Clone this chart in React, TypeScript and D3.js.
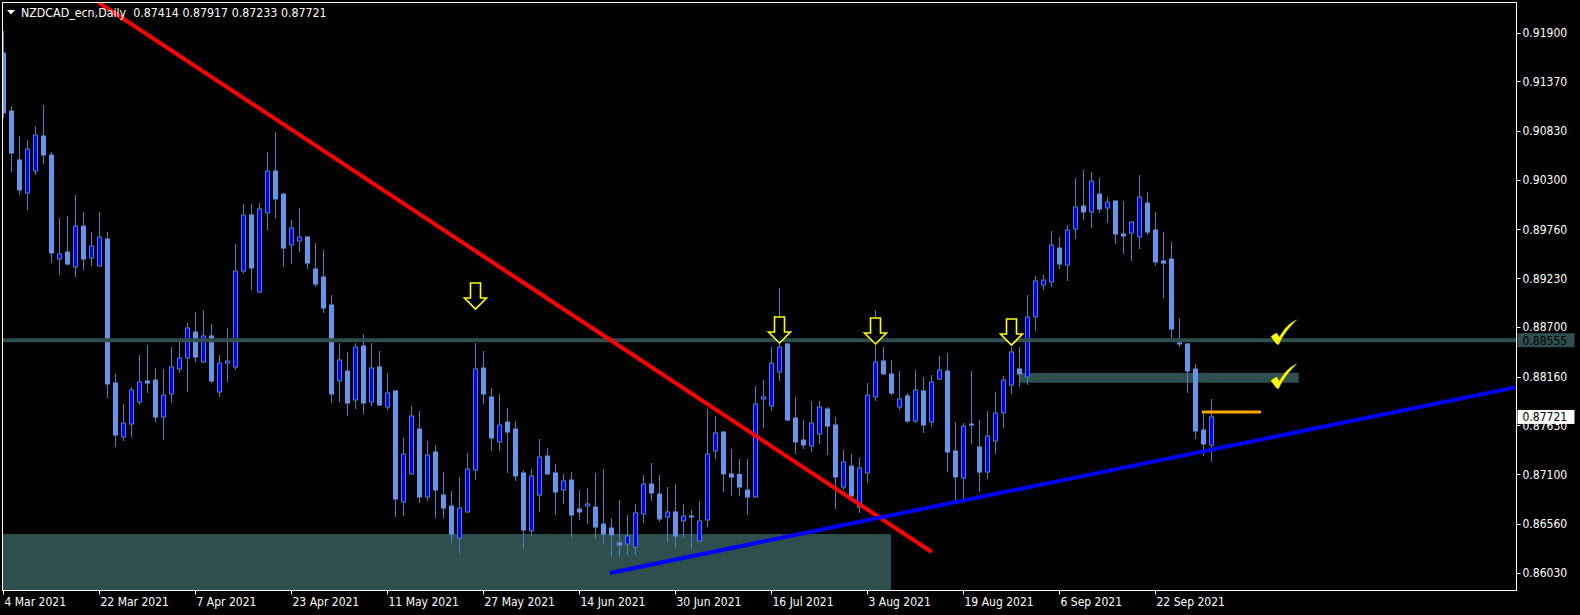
import React from 'react';
import * as d3 from 'd3';

const symbolTitle = 'NZDCAD_ecn,Daily';
const startDate = '2021-03-04';

const opens = [
  0.91677, 0.91046, 0.90514, 0.90155, 0.90394, 0.90775, 0.90568, 0.89438, 0.89514, 0.89351,
  0.89796, 0.89449, 0.89362, 0.89655, 0.88090, 0.87503, 0.87644, 0.87883, 0.88112, 0.88122,
  0.87720, 0.87970, 0.88242, 0.88362, 0.88644, 0.88318, 0.88601, 0.87992, 0.88307, 0.88264,
  0.89307, 0.89916, 0.89079, 0.89938, 0.90394, 0.90144, 0.89590, 0.89633, 0.89677, 0.89329,
  0.89242, 0.88938, 0.88112, 0.88220, 0.87905, 0.88492, 0.87883, 0.88264, 0.87829, 0.88003,
  0.86796, 0.87101, 0.87590, 0.86851, 0.87340, 0.86872, 0.86753, 0.86405, 0.86688, 0.87144,
  0.88253, 0.87938, 0.87449, 0.87666, 0.87590, 0.87112, 0.86481, 0.86872, 0.87296, 0.87112,
  0.86927, 0.87035, 0.86720, 0.86753, 0.86742, 0.86557, 0.86514, 0.86351, 0.86340, 0.86307,
  0.86666, 0.86992, 0.86883, 0.86633, 0.86688, 0.86590, 0.86644, 0.86372, 0.86601, 0.87351,
  0.87557, 0.87101, 0.87095, 0.86927, 0.86851, 0.87916, 0.87840, 0.88209, 0.88514, 0.87709,
  0.87470, 0.87405, 0.87535, 0.87807, 0.87633, 0.86959, 0.87188, 0.86742, 0.87112, 0.87938,
  0.88329, 0.88188, 0.87829, 0.87949, 0.87677, 0.88003, 0.87666, 0.88133, 0.88220, 0.87351,
  0.87057, 0.87644, 0.87394, 0.87122, 0.87459, 0.87764, 0.88068, 0.88242, 0.88155, 0.88807,
  0.89155, 0.89188, 0.89557, 0.89372, 0.89764, 0.90014, 0.89949, 0.90144, 0.89992, 0.90068,
  0.89709, 0.89720, 0.89677, 0.90046, 0.89753, 0.89416, 0.89438, 0.88525, 0.88514, 0.88242,
  0.87579, 0.87414,
];
const highs = [
  0.91916, 0.91101, 0.90775, 0.90731, 0.90883, 0.91112, 0.90601, 0.89883, 0.89905, 0.90133,
  0.89949, 0.89731, 0.89949, 0.89731, 0.88188, 0.87862, 0.88046, 0.88394, 0.88503, 0.88253,
  0.88242, 0.88481, 0.88536, 0.88742, 0.88862, 0.88883, 0.88731, 0.88394, 0.88688, 0.89601,
  0.90036, 0.90036, 0.90046, 0.90601, 0.90818, 0.90150, 0.89862, 0.89992, 0.89688, 0.89612,
  0.89536, 0.89046, 0.88525, 0.88427, 0.88525, 0.88622, 0.88525, 0.88438, 0.88199, 0.88010,
  0.87492, 0.87840, 0.87785, 0.87459, 0.87416, 0.87122, 0.86916, 0.87068, 0.87329, 0.88525,
  0.88438, 0.88035, 0.87970, 0.87818, 0.87677, 0.87144, 0.87155, 0.87481, 0.87383, 0.87209,
  0.87101, 0.87122, 0.86927, 0.86948, 0.87112, 0.87155, 0.86622, 0.86818, 0.86655, 0.86775,
  0.87090, 0.87220, 0.87090, 0.86959, 0.86990, 0.86775, 0.86709, 0.86807, 0.87807, 0.87731,
  0.87565, 0.87372, 0.87264, 0.87264, 0.88057, 0.88122, 0.88481, 0.89122, 0.88525, 0.87938,
  0.87688, 0.87894, 0.87894, 0.87829, 0.87720, 0.87362, 0.87318, 0.87275, 0.88090, 0.88883,
  0.88481, 0.88340, 0.88220, 0.87981, 0.88231, 0.88155, 0.88177, 0.88383, 0.88416, 0.87666,
  0.87655, 0.88220, 0.87688, 0.87785, 0.87992, 0.88166, 0.88481, 0.88481, 0.89046, 0.89253,
  0.89264, 0.89742, 0.89677, 0.89807, 0.90318, 0.90405, 0.90383, 0.90318, 0.90112, 0.90075,
  0.90068, 0.89850, 0.90351, 0.90166, 0.89949, 0.89731, 0.89623, 0.88796, 0.88525, 0.88296,
  0.87764, 0.87917,
];
const lows = [
  0.90970, 0.90383, 0.90133, 0.89970, 0.90351, 0.90470, 0.89394, 0.89264, 0.89372, 0.89242,
  0.89318, 0.89362, 0.89355, 0.87927, 0.87394, 0.87459, 0.87500, 0.87851, 0.87981, 0.87666,
  0.87470, 0.87872, 0.88199, 0.87992, 0.88318, 0.88310, 0.88090, 0.87938, 0.88101, 0.88231,
  0.89275, 0.89101, 0.89068, 0.89753, 0.89883, 0.89351, 0.89383, 0.89514, 0.89329, 0.89133,
  0.88851, 0.87872, 0.87883, 0.87731, 0.87807, 0.87753, 0.87840, 0.87840, 0.87796, 0.86633,
  0.86644, 0.87095, 0.86785, 0.86807, 0.86622, 0.86622, 0.86351, 0.86242, 0.86677, 0.87035,
  0.87862, 0.87351, 0.87351, 0.87112, 0.87025, 0.86285, 0.86427, 0.86688, 0.87095, 0.86655,
  0.86775, 0.86416, 0.86601, 0.86557, 0.86394, 0.86340, 0.86198, 0.86198, 0.86220, 0.86220,
  0.86568, 0.86807, 0.86579, 0.86362, 0.86296, 0.86405, 0.86285, 0.86365, 0.86525, 0.87264,
  0.86905, 0.86862, 0.86862, 0.86655, 0.86840, 0.87601, 0.87785, 0.88112, 0.87677, 0.87318,
  0.87372, 0.87340, 0.87427, 0.87307, 0.86720, 0.86927, 0.86840, 0.86677, 0.87003, 0.87894,
  0.88188, 0.87959, 0.87796, 0.87655, 0.87655, 0.87546, 0.87612, 0.88122, 0.87122, 0.86785,
  0.86785, 0.87427, 0.86905, 0.87046, 0.87318, 0.87601, 0.87970, 0.88046, 0.88068, 0.88655,
  0.89101, 0.89133, 0.89329, 0.89199, 0.89655, 0.89862, 0.89775, 0.89938, 0.89829, 0.89601,
  0.89492, 0.89416, 0.89546, 0.89699, 0.89362, 0.89014, 0.88579, 0.88481, 0.87981, 0.87481,
  0.87296, 0.87233,
];
const closes = [
  0.91025, 0.90590, 0.90188, 0.90633, 0.90786, 0.90568, 0.89503, 0.89492, 0.89383, 0.89796,
  0.89438, 0.89579, 0.89677, 0.88079, 0.87525, 0.87655, 0.88014, 0.88101, 0.88090, 0.87720,
  0.87959, 0.88264, 0.88362, 0.88688, 0.88372, 0.88601, 0.88112, 0.88307, 0.88329, 0.89307,
  0.89916, 0.89340, 0.89981, 0.90394, 0.90090, 0.89557, 0.89775, 0.89677, 0.89394, 0.89166,
  0.88905, 0.87970, 0.88340, 0.87872, 0.88481, 0.87872, 0.88253, 0.87851, 0.87981, 0.86829,
  0.87318, 0.87731, 0.86851, 0.87307, 0.86927, 0.86731, 0.86448, 0.86731, 0.87155, 0.88242,
  0.87970, 0.87492, 0.87633, 0.87557, 0.87079, 0.86492, 0.87079, 0.87285, 0.87101, 0.86905,
  0.87025, 0.86655, 0.86688, 0.86775, 0.86525, 0.86448, 0.86440, 0.86329, 0.86427, 0.86677,
  0.86992, 0.86894, 0.86612, 0.86688, 0.86427, 0.86644, 0.86633, 0.86590, 0.87318, 0.87546,
  0.87101, 0.87068, 0.86959, 0.86851, 0.87862, 0.87938, 0.88307, 0.88481, 0.87688, 0.87449,
  0.87416, 0.87655, 0.87829, 0.87622, 0.87068, 0.87231, 0.86862, 0.87166, 0.87959, 0.88318,
  0.88188, 0.87981, 0.87916, 0.87677, 0.88014, 0.87633, 0.88101, 0.88231, 0.87340, 0.87068,
  0.87622, 0.87633, 0.87122, 0.87514, 0.87764, 0.88122, 0.88427, 0.88188, 0.88807, 0.89199,
  0.89209, 0.89590, 0.89383, 0.89753, 0.90003, 0.89949, 0.90286, 0.89981, 0.90057, 0.89709,
  0.89688, 0.89840, 0.90112, 0.89731, 0.89405, 0.89394, 0.88677, 0.88514, 0.88220, 0.87568,
  0.87427, 0.87721,
];

const priceTicks = [0.91900, 0.91370, 0.90830, 0.90300, 0.89760, 0.89230, 0.88700, 0.88160, 0.87630, 0.87100, 0.86560, 0.86030];
const dateTickLabels = ['4 Mar 2021', '22 Mar 2021', '7 Apr 2021', '23 Apr 2021', '11 May 2021', '27 May 2021', '14 Jun 2021', '30 Jun 2021', '16 Jul 2021', '3 Aug 2021', '19 Aug 2021', '6 Sep 2021', '22 Sep 2021'];

// annotations, in (bar index, price) space
const resistanceLevel = 0.88555;
const redTrend = [{ i: 11.81, p: 0.92231 }, { i: 116.03, p: 0.86253 }];
const blueTrend = [{ i: 75.81, p: 0.86025 }, { i: 165.8, p: 0.8763 }];
const demandZone = { i1: 110.94, pTop: 0.86448 };
const retestZone = { i0: 127.06, i1: 161.9, p0: 0.88199, p1: 0.88093 };
const orangeLevel = { i0: 149.8, i1: 157.2, p: 0.87775 };
const arrowBars = [59, 97, 109, 126];
const arrowTipPrices = [0.88894, 0.88525, 0.88514, 0.88503];
const checkBar = 158.44;
const checkTopPrices = [0.88775, 0.88296];

const W = 1580, H = 615;
const L = 2.5, T = 2.5, R = 1516.5, B = 590.5;
const FONT = "'DejaVu Sans Condensed', 'DejaVu Sans', sans-serif";
const BULL = '#0000ff', BEAR = '#6495ed', WICK = '#4a7fc0', ZONE = '#2f4f4f';

function tradingDays(start: string, n: number): Date[] {
  const s = d3.timeParse('%Y-%m-%d')(start) as Date;
  const e = d3.timeDay.offset(s, n * 2 + 10);
  return d3.timeDay.range(s, e).filter((d) => d.getDay() % 6 !== 0).slice(0, n);
}

export default function App() {
  const n = opens.length;
  const dates = tradingDays(startDate, n);
  const x = d3.scaleLinear().domain([0, n - 1]).range([3.5, 3.5 + 8 * (n - 1)]);
  const y = d3.scaleLinear().domain([0.8603, 0.919]).range([572.5, 32.5]);
  const fmtLabel = d3.timeFormat('%-d %b %Y');
  const tickIdx = dateTickLabels.map((lab) => dates.findIndex((d) => fmtLabel(d) === lab));

  const line = d3.line<{ i: number; p: number }>().x((d) => x(d.i)).y((d) => y(d.p));
  const extend = (pts: { i: number; p: number }[], ray: boolean) => {
    if (!ray) return pts;
    const [a, b] = pts;
    const k = (b.p - a.p) / (b.i - a.i);
    const iEnd = n + 60;
    return [a, { i: iEnd, p: a.p + k * (iEnd - a.i) }];
  };

  const arrowPath = 'M-5,-26 L5,-26 L5,-11 L11,-11 L0,0 L-11,-11 L-5,-11 Z';
  const checkPath = 'M0,16.5 L5.5,13 L8.5,17.5 C12.5,9.5 18,3.5 25.5,0 C18.5,6.5 12,14.5 7.5,24.5 L5.5,24 Z';

  const header = `${symbolTitle}  ${opens[n - 1].toFixed(5)} ${highs[n - 1].toFixed(5)} ${lows[n - 1].toFixed(5)} ${closes[n - 1].toFixed(5)}`;

  return (
    <svg width={W} height={H} style={{ position: 'fixed', left: 0, top: 0, background: '#000' }} fontFamily={FONT}>
      <defs>
        <clipPath id="plot">
          <rect x={L} y={T} width={R - L} height={B - T} />
        </clipPath>
      </defs>
      <rect x={0} y={0} width={W} height={H} fill="#000" />
      <g clipPath="url(#plot)">
        <rect x={L} y={y(demandZone.pTop)} width={x(demandZone.i1) - L} height={B - y(demandZone.pTop)} fill={ZONE} />
        <rect x={x(retestZone.i0)} y={y(retestZone.p0)} width={x(retestZone.i1) - x(retestZone.i0)} height={y(retestZone.p1) - y(retestZone.p0)} fill={ZONE} />
        {opens.map((o, i) => {
          const c = closes[i];
          const cx = x(i);
          const bull = c >= o;
          const top = y(Math.max(o, c));
          const bot = y(Math.min(o, c));
          return (
            <g key={i}>
              <line x1={cx} x2={cx} y1={y(highs[i])} y2={y(lows[i])} stroke={WICK} strokeWidth={1} />
              <rect x={cx - 2} y={top} width={4} height={Math.max(0, bot - top)} fill={bull ? BULL : BEAR} stroke={bull ? WICK : BEAR} strokeWidth={1} />
            </g>
          );
        })}
        <line x1={L} x2={R} y1={y(resistanceLevel)} y2={y(resistanceLevel)} stroke={ZONE} strokeWidth={4} />
        <path d={line(extend(redTrend, false)) || ''} stroke="#ff0000" strokeWidth={4} fill="none" />
        <path d={line(extend(blueTrend, true)) || ''} stroke="#0000ff" strokeWidth={4} fill="none" />
        <line x1={x(orangeLevel.i0)} x2={x(orangeLevel.i1)} y1={y(orangeLevel.p)} y2={y(orangeLevel.p)} stroke="#ffa500" strokeWidth={3} />
        {arrowBars.map((b, k) => (
          <path key={k} d={arrowPath} transform={`translate(${x(b)},${y(arrowTipPrices[k])})`} fill="#000" stroke="#ffff00" strokeWidth={1.6} strokeLinejoin="miter" />
        ))}
        {checkTopPrices.map((p, k) => (
          <path key={k} d={checkPath} transform={`translate(${x(checkBar)},${y(p)})`} fill="#ffff00" stroke="#e8e000" strokeWidth={0.6} />
        ))}
      </g>
      <rect x={L} y={T} width={R - L} height={B - T} fill="none" stroke="#fff" strokeWidth={1} />
      <path d="M7,10 L15,10 L11,14.5 Z" fill="#fff" />
      <text x={21} y={17} fontSize={12.3} fill="#fff" style={{ whiteSpace: 'pre' }}>{header}</text>
      {priceTicks.map((p) => (
        <g key={p}>
          <line x1={R} x2={R + 4} y1={Math.round(y(p)) + 0.5} y2={Math.round(y(p)) + 0.5} stroke="#fff" />
          <text x={R + 6} y={y(p) + 4.5} fontSize={12} fill="#fff">{p.toFixed(5)}</text>
        </g>
      ))}
      <rect x={R + 1} y={y(resistanceLevel) - 7} width={57} height={14} fill={ZONE} />
      <text x={R + 6} y={y(resistanceLevel) + 4.5} fontSize={12} fill="#000">{resistanceLevel.toFixed(5)}</text>
      <rect x={R + 1} y={y(closes[n - 1]) - 7} width={57} height={14} fill="#fff" />
      <text x={R + 6} y={y(closes[n - 1]) + 4.5} fontSize={12} fill="#000">{closes[n - 1].toFixed(5)}</text>
      {tickIdx.map((ti, k) => (
        <g key={k}>
          <line x1={x(ti)} x2={x(ti)} y1={B} y2={B + 4} stroke="#fff" />
          <text x={x(ti) + 1} y={605.5} fontSize={12} fill="#fff">{dateTickLabels[k]}</text>
        </g>
      ))}
    </svg>
  );
}
